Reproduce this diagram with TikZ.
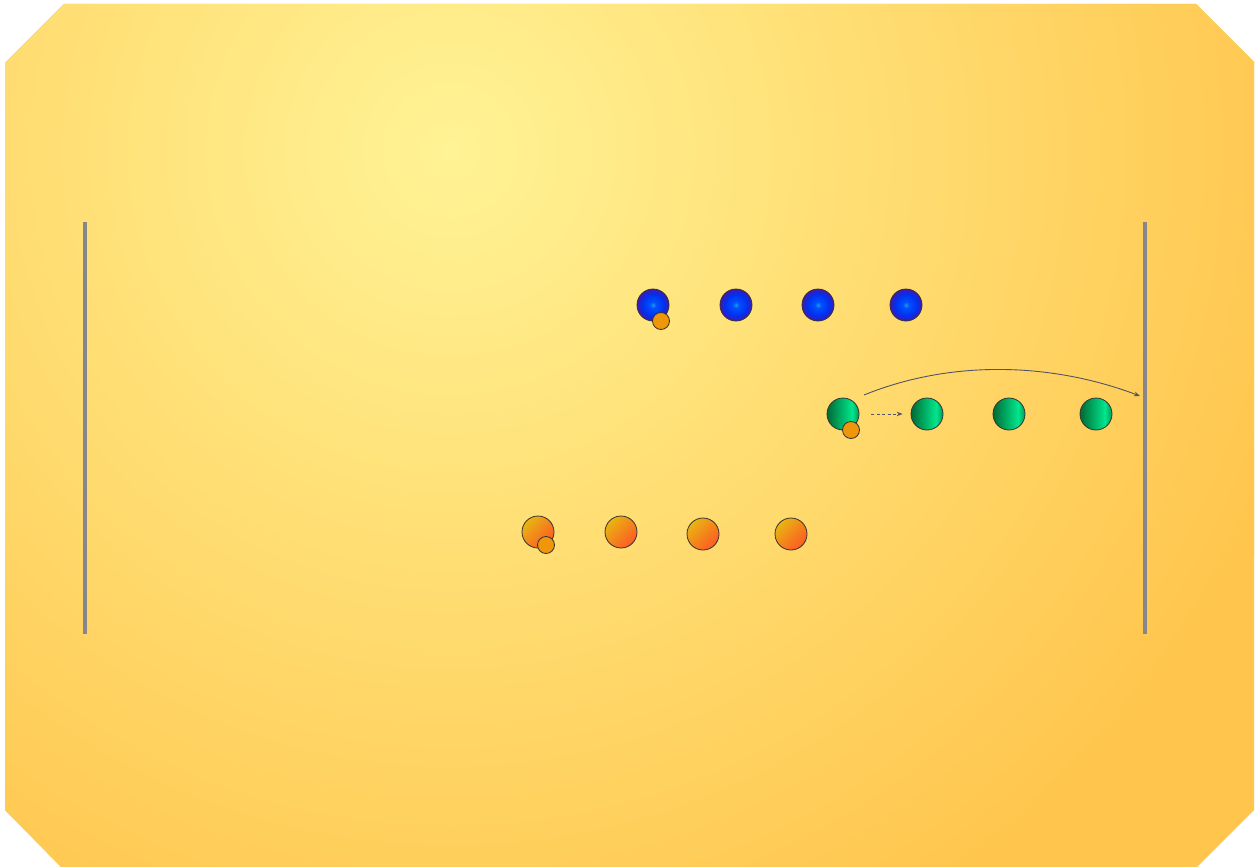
\documentclass[tikz,border=0pt]{standalone}
\usetikzlibrary{calc,arrows.meta}
\definecolor{bgin}{HTML}{FFF395}
\definecolor{bgout}{HTML}{FFC54C}
\definecolor{wallc}{HTML}{86878E}
\definecolor{linec}{HTML}{505566}
\definecolor{smallc}{HTML}{F0960A}
\definecolor{bA}{HTML}{1A9AE0}
\definecolor{bB}{HTML}{0050FF}
\definecolor{bC}{HTML}{0030F0}
\definecolor{bD}{HTML}{4018B0}
\definecolor{gA}{HTML}{006A34}
\definecolor{gB}{HTML}{00E68C}
\definecolor{gC}{HTML}{009A55}
\definecolor{oA}{HTML}{E8B412}
\definecolor{oB}{HTML}{FF5A24}
\pgfdeclareradialshading{blueball}{\pgfpoint{0bp}{0bp}}{color(0bp)=(bA); color(5bp)=(bB); color(17bp)=(bC); color(25bp)=(bD); color(50bp)=(bD)}
\pgfdeclarehorizontalshading{greenball}{100bp}{color(0bp)=(gA); color(25bp)=(gA); color(64bp)=(gB); color(75bp)=(gC); color(100bp)=(gC)}
\tikzset{
  ball/.style={circle, minimum size=32pt, inner sep=0pt, draw=black!80, line width=0.8pt},
  blueb/.style={ball, shading=blueball},
  greenb/.style={ball, shading=greenball},
  orangeb/.style={ball, top color=oA, bottom color=oB, shading angle=45},
  smallb/.style={circle, minimum size=17pt, inner sep=0pt, draw=black!80, line width=0.8pt, fill=smallc},
  wallline/.style={line width=3.2pt, draw=wallc},
  conn/.style={draw=linec, line width=0.9pt, -{Stealth[length=6pt,width=4.5pt]}},
}
\begin{document}
\begin{tikzpicture}[x=1pt,y=-1pt]
\useasboundingbox (0,0) rectangle (1259,867);
\begin{scope}
\clip (64,4) -- (1196,4) -- (1254,62) -- (1254,810) -- (1196,868) -- (62,868) -- (5,810) -- (5,63) -- cycle;
\fill[bgout] (0,0) rectangle (1259,867);
\shade[inner color=bgin, outer color=bgout] (450,150) circle (900);
\end{scope}
% walls
\coordinate (lwt) at (85,222);
\coordinate (lwb) at (85,634);
\coordinate (rwt) at (1145,222);
\coordinate (rwb) at (1145,634);
\draw[wallline] (lwt) -- (lwb);
\draw[wallline] (rwt) -- (rwb);
% blue row
\node[blueb] (b1) at (653,305) {};
\node[blueb] (b2) at (736,305) {};
\node[blueb] (b3) at (818,305) {};
\node[blueb] (b4) at (906,305) {};
\node[smallb] (bs) at (661,321) {};
% green row
\node[greenb] (g1) at (843,414) {};
\node[greenb] (g2) at (927,414) {};
\node[greenb] (g3) at (1009,414) {};
\node[greenb] (g4) at (1096,414) {};
\node[smallb] (gs) at (851,430) {};
% orange row
\node[orangeb] (o1) at (538,532) {};
\node[orangeb] (o2) at (621,532) {};
\node[orangeb] (o3) at (703,534) {};
\node[orangeb] (o4) at (791,534) {};
\node[smallb] (os) at (546,545) {};
% connectors
\coordinate (hit) at (1140,396);
\draw[conn, dash pattern=on 3pt off 2.5pt] ([xshift=12pt]g1.east) -- ([xshift=-8pt]g2.west);
\draw[conn] ($(g1)+(21,-19)$) .. controls (950,360) and (1050,362) .. (hit);
\end{tikzpicture}
\end{document}
